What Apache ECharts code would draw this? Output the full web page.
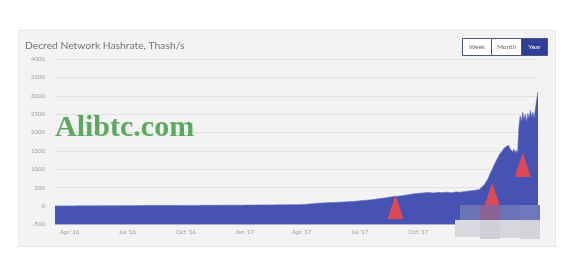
<!DOCTYPE html>
<html>
<head>
<meta charset="utf-8">
<script src="https://cdn.jsdelivr.net/npm/echarts@6/dist/echarts.min.js"></script>
<style>
html,body{margin:0;padding:0;background:#ffffff;}
#chart{width:579px;height:257px;}
</style>
</head>
<body>
<div id="chart"></div>
<script>
// ---- data ----
const titleText = "Decred Network Hashrate, Thash/s";
const firstDay = "2016-03-09";
const lastDay = "2018-04-07";
const lastLabelDay = "2018-01-01";
// weekly readings, starting 2016-03-09 (7-day step)
const weeklyStart = "2016-03-09";
const weeklyValues = [
  4,5,5,6,6,7,7,8,8,9,9,10,10,11,11,12,12,
  13,13,14,14,15,15,16,16,17,17,18,18,19,
  19,20,20,21,21,22,22,23,23,24,24,25,26,
  27,28,29,30,31,32,33,34,35,36,37,38,40,
  45,55,66,78,84,90,95,101,108,114,120,127,
  138,150,160,172,188,205,222,240,258,270,285,305,
  325,340,352,362,370,355,375,365,380,360,385,378,395,410,425
];
// 2-day readings, starting 2018-01-01
const lateStart = "2018-01-01";
const lateValues = [
  440,470,455,500,520,540,590,640,700,760,850,930,990,1080,1150,1220,
  1290,1350,1420,1380,1500,1560,1520,1620,1580,1650,1560,1600,1480,1550,
  1450,1520,1440,2150,2450,2300,2550,2350,2500,2280,2520,2380,2600,2420,
  2550,2380,2650,2900,3100
];
const yTicks = { min: -500, max: 4000, step: 500 };
const quarterMonths = [0, 3, 6, 9];
const monthNames = ["Jan","Feb","Mar","Apr","May","Jun","Jul","Aug","Sep","Oct","Nov","Dec"];
const buttons = ["Week", "Month", "Year"];
const watermark = "Alibtc.com";
// annotation markers (date, value)
const markerDates = ["2017-08-26", "2018-01-25", "2018-03-14"];
const markerValues = [-27, 300, 1117];

// ---- build ----
function fmt(d){ return d.toISOString().slice(0,10); }
function addDays(s, n){ const d = new Date(s + "T00:00:00Z"); d.setUTCDate(d.getUTCDate()+n); return fmt(d); }
const categories = [];
for (let d = firstDay; d <= lastDay; d = addDays(d,1)) categories.push(d);
const seriesData = [];
weeklyValues.forEach((v,i)=> seriesData.push([addDays(weeklyStart, 7*i), v]));
lateValues.forEach((v,i)=> seriesData.push([addDays(lateStart, 2*i), v]));

const chart = echarts.init(document.getElementById('chart'));
const axisFont = { fontSize: 6, color: '#9a9a9a', fontFamily: 'Lato, sans-serif' };

const btnX = [462, 491, 521], btnW = [29, 30, 26];
const btnEls = buttons.map((b,i)=>({
  type: 'group', z: 50,
  children: [
    { type:'rect', shape:{x:btnX[i]+0.5,y:38.5,width:btnW[i],height:17},
      style:{ fill: i===2 ? '#2f3f96' : '#ffffff', stroke:'#4b5680', lineWidth:1 } },
    { type:'text', x: btnX[i]+btnW[i]/2+0.5, y: 47,
      style:{ text:b, fill: i===2 ? '#ffffff' : '#6a6a7a', fontSize:6.5, fontFamily:'Lato, sans-serif',
        align:'center', verticalAlign:'middle' } }
  ]
}));

const mosaic = [
  [460,205,20,15,'#6b75b5'],[480,205,20,15,'#8a6295'],[500,205,20,15,'#6a72b8'],[520,205,20,15,'#7078bb'],
  [455,220,25,17,'#d9dae1'],[480,220,20,19,'#d0cfd8'],[500,220,20,18,'#d6d6dd'],[520,220,20,19,'#d3d3db']
].map(c=>({ type:'rect', z:60, shape:{x:c[0],y:c[1],width:c[2],height:c[3]}, style:{fill:c[4]} }));

chart.setOption({
  animation: false,
  backgroundColor: '#ffffff',
  graphic: [
    { type:'rect', z:-10, shape:{x:18.5,y:30.5,width:537,height:216}, style:{fill:'#f3f3f3', stroke:'#e6e6e6', lineWidth:1} },
    { type:'text', z:5, x:25, y:46, style:{ text:titleText, fill:'#747474', fontSize:10.3, fontFamily:'Lato, sans-serif', verticalAlign:'middle' } },
    ...btnEls,
    ...mosaic,
    { type:'text', z:70, x:55, y:128, style:{ text:watermark, fill:'#5ca85f', fontSize:30, fontWeight:'bold',
      fontFamily:'"Liberation Serif", serif', verticalAlign:'middle' } }
  ],
  grid: { left: 55, right: 41, top: 59, bottom: 32.5, containLabel: false },
  xAxis: {
    type: 'category', data: categories, boundaryGap: false,
    axisLine: { show: false }, axisTick: { show: false },
    axisLabel: Object.assign({}, axisFont, {
      margin: 5, hideOverlap: false,
      interval: (idx, val) => { const d = new Date(val + "T00:00:00Z"); return val <= lastLabelDay && d.getUTCDate()===1 && quarterMonths.includes(d.getUTCMonth()); },
      formatter: (val) => { const d = new Date(val + "T00:00:00Z"); return monthNames[d.getUTCMonth()] + " '" + String(d.getUTCFullYear()).slice(2); }
    }),
    splitLine: { show: false }
  },
  yAxis: {
    type: 'value', min: yTicks.min, max: yTicks.max, interval: yTicks.step,
    axisLine: { show: false }, axisTick: { show: false },
    axisLabel: Object.assign({}, axisFont, { margin: 10, formatter: (v) => String(v) }),
    splitLine: { lineStyle: { color: '#e2e2e2', width: 1 } }
  },
  series: [{
    type: 'line', data: seriesData, showSymbol: false, symbol: 'none',
    lineStyle: { width: 0.6, color: '#5a65bb' },
    areaStyle: { color: '#4753b3', opacity: 1, origin: 'start' },
    z: 3,
    markPoint: {
      symbol: 'triangle', symbolSize: [16, 24], silent: true,
      itemStyle: { color: '#ea4a4e', opacity: 0.92 },
      label: { show: false },
      data: markerDates.map((d,i)=>({ coord: [d, markerValues[i]] }))
    }
  }]
});
</script>
</body>
</html>
